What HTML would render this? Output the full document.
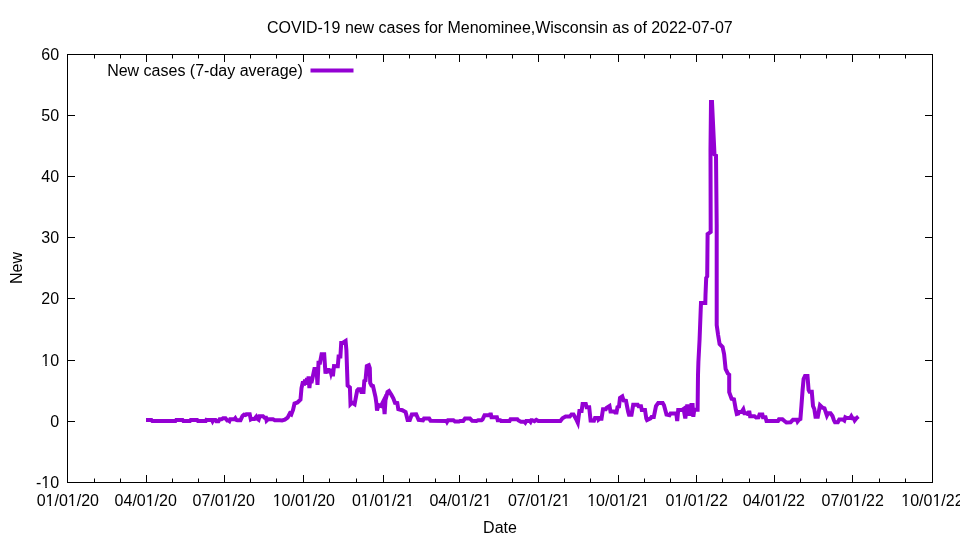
<!DOCTYPE html>
<html><head><meta charset="utf-8"><style>
html,body{margin:0;padding:0;background:#fff;}
svg{display:block;will-change:transform;}
text{font-family:"Liberation Sans",sans-serif;font-size:16px;fill:#000;}
</style></head><body>
<svg width="960" height="540" viewBox="0 0 960 540">
<rect width="960" height="540" fill="#fff"/>
<text x="499.85" y="33" text-anchor="middle" textLength="465.8" lengthAdjust="spacing">COVID-19 new cases for Menominee,Wisconsin as of 2022-07-07</text>
<path d="M146.0,420.1 L151.5,420.1 L152.3,421.0 L175.5,421.0 L176.2,420.1 L182.6,420.1 L183.3,421.0 L190.0,421.0 L190.7,420.1 L197.2,420.1 L197.9,421.0 L205.8,421.0 L206.4,419.9 L207.2,420.1 L212.0,420.1 L212.6,421.3 L213.3,420.1 L215.5,420.1 L216.3,421.2 L218.5,421.2 L219.6,419.3 L221.5,419.3 L223.0,418.3 L225.5,418.3 L227.2,420.4 L228.5,420.4 L229.4,421.1 L230.2,419.3 L234.4,419.3 L235.3,418.2 L236.2,419.8 L237.3,420.2 L240.5,420.2 L242.5,416.0 L244.0,414.6 L245.5,415.0 L246.5,414.2 L249.7,414.2 L250.8,419.4 L251.5,419.0 L254.4,419.0 L256.3,416.6 L257.5,419.0 L258.6,419.8 L259.6,416.2 L263.0,416.2 L264.6,417.8 L266.0,417.8 L266.6,420.6 L268.0,419.3 L273.0,419.3 L274.8,420.3 L280.0,420.3 L282.0,420.4 L284.8,419.6 L287.6,417.6 L289.8,413.5 L291.3,414.5 L293.1,409.7 L294.5,403.5 L297.5,402.5 L300.5,399.5 L301.5,388.0 L303.0,381.5 L304.0,385.5 L305.0,379.5 L306.0,384.5 L307.0,378.0 L308.0,383.5 L308.6,376.5 L309.4,388.0 L310.4,379.0 L311.4,383.0 L312.5,378.0 L314.4,369.0 L316.5,369.0 L317.5,385.0 L318.5,362.7 L320.0,362.7 L321.6,354.2 L324.2,354.2 L325.5,373.6 L326.4,369.0 L327.3,373.0 L328.2,368.5 L329.1,372.5 L330.0,369.0 L331.0,373.0 L332.0,369.5 L332.9,376.3 L334.0,366.0 L337.8,366.2 L338.6,356.6 L340.4,356.6 L341.2,343.0 L342.6,343.0 L345.6,341.0 L346.4,350.0 L347.6,385.5 L349.9,387.5 L350.5,404.0 L352.0,402.5 L354.6,404.2 L357.2,390.5 L358.3,389.2 L360.3,389.2 L361.3,391.9 L363.5,391.9 L364.3,381.0 L365.5,380.4 L366.8,366.0 L368.8,365.1 L369.8,368.0 L370.2,383.0 L371.5,385.5 L373.0,386.0 L375.5,397.0 L376.5,404.0 L377.0,410.5 L378.5,405.0 L381.0,406.0 L383.5,401.0 L384.6,414.0 L385.5,400.0 L387.5,392.0 L389.0,391.0 L391.5,395.0 L393.3,398.3 L395.0,402.8 L397.3,403.0 L398.3,409.2 L402.3,410.2 L405.6,412.1 L407.6,419.9 L409.8,419.9 L411.8,414.5 L416.2,414.3 L418.6,419.8 L423.0,420.3 L424.0,418.6 L429.2,418.6 L430.6,420.8 L446.5,421.0 L447.0,421.9 L448.0,420.2 L453.4,420.2 L455.0,421.5 L459.0,421.5 L460.0,421.0 L463.2,421.0 L465.0,418.5 L470.0,418.5 L472.2,420.8 L476.5,421.0 L478.0,420.3 L481.5,420.3 L482.5,419.5 L484.5,415.3 L490.0,415.3 L490.6,413.0 L491.5,417.3 L496.9,417.3 L497.7,420.2 L500.3,420.2 L501.0,420.9 L509.6,420.9 L510.5,419.3 L517.4,419.3 L518.5,420.5 L519.5,421.0 L521.0,421.8 L524.5,421.8 L525.3,422.7 L526.3,421.0 L529.7,421.0 L530.5,421.9 L531.3,420.2 L532.3,420.2 L534.4,421.2 L536.3,419.8 L538.3,421.0 L560.4,421.0 L562.5,418.3 L565.6,416.6 L569.8,416.6 L571.5,414.4 L573.5,414.4 L576.0,419.0 L577.8,422.8 L579.4,411.1 L581.6,411.1 L582.6,404.0 L585.8,404.0 L586.6,407.2 L589.2,407.2 L590.6,420.5 L594.0,420.6 L595.0,418.0 L597.5,418.0 L597.9,416.5 L598.6,419.6 L599.6,418.8 L601.5,418.8 L603.0,409.2 L605.8,409.2 L606.5,408.0 L609.5,406.0 L610.5,411.4 L614.0,411.4 L615.0,412.4 L616.5,412.4 L617.5,407.1 L619.0,406.5 L620.0,397.8 L622.3,396.3 L623.6,400.5 L626.0,400.8 L627.0,406.0 L628.2,412.0 L629.0,414.7 L631.5,414.7 L633.2,404.8 L637.7,404.8 L638.5,406.2 L641.0,406.2 L641.8,410.0 L645.0,410.0 L646.3,418.5 L647.0,420.0 L650.5,418.4 L651.5,417.0 L653.8,417.0 L656.0,406.0 L658.2,403.1 L662.7,403.1 L664.0,405.3 L666.5,414.5 L669.5,415.2 L670.5,413.4 L676.3,413.4 L677.2,421.0 L678.2,410.0 L682.2,410.0 L683.6,409.0 L685.3,418.5 L687.3,404.5 L689.3,415.5 L690.5,410.0 L691.3,405.0 L692.6,405.0 L693.3,416.8 L694.3,409.7 L697.6,409.7 L698.0,375.0 L698.4,362.0 L699.6,339.0 L700.7,310.0 L701.0,303.0 L705.3,303.0 L705.5,295.0 L706.2,278.0 L707.2,276.5 L707.6,234.0 L710.7,232.0 L710.5,150.0 L711.0,102.0 L712.0,102.0 L714.5,154.5 L716.0,155.5 L716.7,225.0 L716.7,325.0 L718.1,335.0 L719.6,344.0 L722.6,347.0 L724.1,354.0 L725.6,369.0 L727.8,373.5 L729.2,374.6 L729.2,392.1 L731.6,398.7 L734.0,399.3 L735.8,409.5 L736.8,414.0 L738.3,413.5 L739.0,412.0 L741.5,412.0 L743.3,409.3 L744.4,413.2 L747.8,413.2 L748.4,415.5 L749.2,410.8 L750.1,416.3 L754.5,416.3 L756.0,417.5 L758.5,417.3 L759.5,414.5 L762.4,414.5 L763.0,417.3 L765.5,417.3 L766.5,421.0 L778.0,421.0 L779.0,419.2 L782.4,419.2 L784.5,421.0 L786.4,422.5 L790.6,422.2 L793.0,419.8 L797.0,419.8 L797.6,421.5 L799.0,419.8 L800.4,419.0 L801.5,405.0 L802.6,390.0 L803.6,379.0 L805.0,376.0 L807.5,376.0 L808.6,390.0 L809.5,391.8 L811.8,391.8 L813.0,406.0 L814.3,409.0 L815.5,416.8 L817.8,416.8 L820.0,405.3 L822.5,407.7 L824.5,408.3 L826.9,415.5 L828.0,413.3 L830.5,413.3 L832.5,416.0 L834.0,420.5 L835.0,422.3 L837.8,422.3 L839.3,419.5 L842.7,419.3 L844.3,420.5 L845.3,417.3 L846.7,418.0 L850.2,418.0 L851.3,416.2 L852.5,418.3 L853.8,418.5 L854.7,420.5 L857.0,417.6 L858.4,416.5" fill="none" stroke="#9400d3" stroke-width="4" stroke-linejoin="miter" stroke-miterlimit="4" stroke-linecap="butt"/>
<rect x="67.5" y="54.5" width="865" height="428" fill="none" stroke="#000" stroke-width="1"/>
<path d="M67.5,482 V475 M67.5,54 V62 M146.5,482 V475 M146.5,54 V62 M224.5,482 V475 M224.5,54 V62 M303.5,482 V475 M303.5,54 V62 M383.5,482 V475 M383.5,54 V62 M459.5,482 V475 M459.5,54 V62 M538.5,482 V475 M538.5,54 V62 M618.5,482 V475 M618.5,54 V62 M696.5,482 V475 M696.5,54 V62 M774.5,482 V475 M774.5,54 V62 M852.5,482 V475 M852.5,54 V62 M932.5,482 V475 M932.5,54 V62 M94.5,482 V478.5 M94.5,54 V58.5 M120.5,482 V478.5 M120.5,54 V58.5 M172.5,482 V478.5 M172.5,54 V58.5 M198.5,482 V478.5 M198.5,54 V58.5 M250.5,482 V478.5 M250.5,54 V58.5 M276.5,482 V478.5 M276.5,54 V58.5 M329.5,482 V478.5 M329.5,54 V58.5 M356.5,482 V478.5 M356.5,54 V58.5 M409.5,482 V478.5 M409.5,54 V58.5 M435.5,482 V478.5 M435.5,54 V58.5 M486.5,482 V478.5 M486.5,54 V58.5 M512.5,482 V478.5 M512.5,54 V58.5 M564.5,482 V478.5 M564.5,54 V58.5 M590.5,482 V478.5 M590.5,54 V58.5 M644.5,482 V478.5 M644.5,54 V58.5 M670.5,482 V478.5 M670.5,54 V58.5 M722.5,482 V478.5 M722.5,54 V58.5 M749.5,482 V478.5 M749.5,54 V58.5 M800.5,482 V478.5 M800.5,54 V58.5 M826.5,482 V478.5 M826.5,54 V58.5 M879.5,482 V478.5 M879.5,54 V58.5 M905.5,482 V478.5 M905.5,54 V58.5 M67,54.5 H75 M932,54.5 H925 M67,115.5 H75 M932,115.5 H925 M67,176.5 H75 M932,176.5 H925 M67,237.5 H75 M932,237.5 H925 M67,298.5 H75 M932,298.5 H925 M67,360.5 H75 M932,360.5 H925 M67,421.5 H75 M932,421.5 H925 M67,482.5 H75 M932,482.5 H925" fill="none" stroke="#000" stroke-width="1"/>
<text x="67.82" y="505.5" text-anchor="middle">01/01/20</text>
<text x="145.72" y="505.5" text-anchor="middle">04/01/20</text>
<text x="223.72" y="505.5" text-anchor="middle">07/01/20</text>
<text x="303.82" y="505.5" text-anchor="middle">10/01/20</text>
<text x="383.12" y="505.5" text-anchor="middle">01/01/21</text>
<text x="460.52" y="505.5" text-anchor="middle">04/01/21</text>
<text x="539.12" y="505.5" text-anchor="middle">07/01/21</text>
<text x="618.32" y="505.5" text-anchor="middle">10/01/21</text>
<text x="696.75" y="505.5" text-anchor="middle">01/01/22</text>
<text x="773.80" y="505.5" text-anchor="middle">04/01/22</text>
<text x="852.75" y="505.5" text-anchor="middle">07/01/22</text>
<text x="932.40" y="505.5" text-anchor="middle">10/01/22</text>
<text x="59.1" y="59.8" text-anchor="end">60</text>
<text x="59.1" y="120.8" text-anchor="end">50</text>
<text x="59.1" y="181.8" text-anchor="end">40</text>
<text x="59.1" y="242.8" text-anchor="end">30</text>
<text x="59.1" y="303.8" text-anchor="end">20</text>
<text x="59.1" y="365.8" text-anchor="end">10</text>
<text x="59.1" y="426.8" text-anchor="end">0</text>
<text x="59.1" y="487.8" text-anchor="end">-10</text>
<text x="500" y="532.5" text-anchor="middle">Date</text>
<text transform="translate(22,268) rotate(-90)" text-anchor="middle">New</text>
<text x="302.8" y="75.5" text-anchor="end">New cases (7-day average)</text>
<path d="M310.5,70.5 H353.5" stroke="#9400d3" stroke-width="4" fill="none"/>
<path d="M323.54,31h3.20v2.2h-3.2z M328.24,31h3.0v2.2h-3.0z M46.37,504h3.20v2.2h-3.2z M51.07,504h3.0v2.2h-3.0z M68.62,504h3.20v2.2h-3.2z M73.32,504h3.0v2.2h-3.0z M146.52,504h3.20v2.2h-3.2z M151.22,504h3.0v2.2h-3.0z M224.52,504h3.20v2.2h-3.2z M229.22,504h3.0v2.2h-3.0z M273.48,504h3.20v2.2h-3.2z M278.18,504h3.0v2.2h-3.0z M304.62,504h3.20v2.2h-3.2z M309.32,504h3.0v2.2h-3.0z M361.67,504h3.20v2.2h-3.2z M366.37,504h3.0v2.2h-3.0z M383.92,504h3.20v2.2h-3.2z M388.62,504h3.0v2.2h-3.0z M406.15,504h3.20v2.2h-3.2z M410.85,504h3.0v2.2h-3.0z M461.32,504h3.20v2.2h-3.2z M466.02,504h3.0v2.2h-3.0z M483.55,504h3.20v2.2h-3.2z M488.25,504h3.0v2.2h-3.0z M539.92,504h3.20v2.2h-3.2z M544.62,504h3.0v2.2h-3.0z M562.15,504h3.20v2.2h-3.2z M566.85,504h3.0v2.2h-3.0z M587.98,504h3.20v2.2h-3.2z M592.68,504h3.0v2.2h-3.0z M619.12,504h3.20v2.2h-3.2z M623.82,504h3.0v2.2h-3.0z M641.35,504h3.20v2.2h-3.2z M646.05,504h3.0v2.2h-3.0z M675.30,504h3.20v2.2h-3.2z M680.00,504h3.0v2.2h-3.0z M697.55,504h3.20v2.2h-3.2z M702.25,504h3.0v2.2h-3.0z M774.60,504h3.20v2.2h-3.2z M779.30,504h3.0v2.2h-3.0z M853.55,504h3.20v2.2h-3.2z M858.25,504h3.0v2.2h-3.0z M902.06,504h3.20v2.2h-3.2z M906.76,504h3.0v2.2h-3.0z M933.20,504h3.20v2.2h-3.2z M937.90,504h3.0v2.2h-3.0z M42.10,364h3.20v2.2h-3.2z M46.80,364h3.0v2.2h-3.0z M42.10,486h3.20v2.2h-3.2z M46.80,486h3.0v2.2h-3.0z" fill="#fff"/>
</svg>
</body></html>
